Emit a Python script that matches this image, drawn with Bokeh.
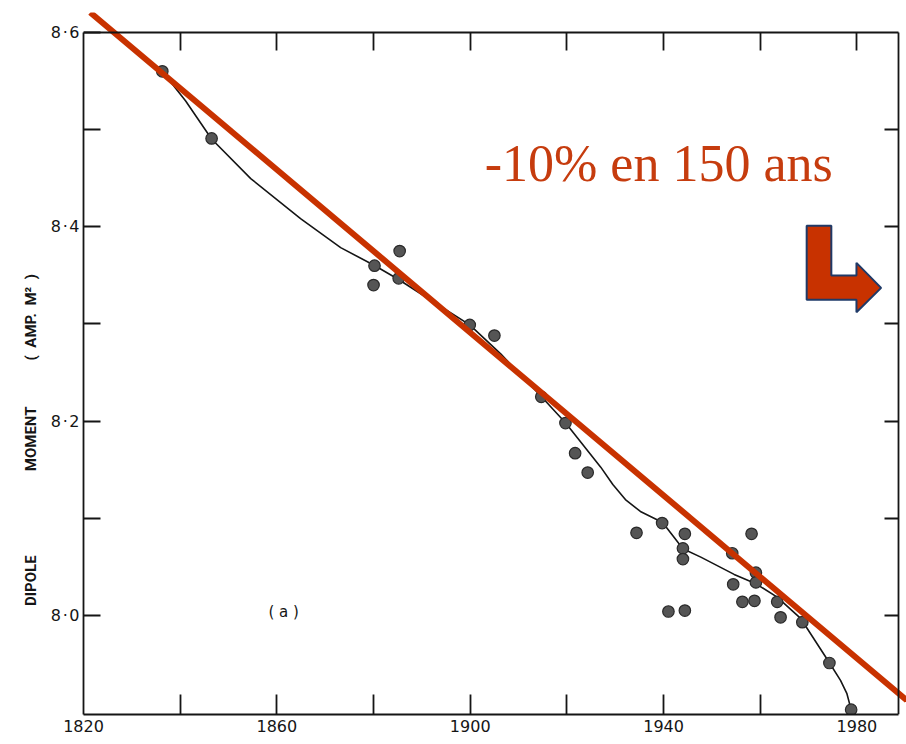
from bokeh.plotting import figure
from bokeh.models import (Range1d, LinearAxis, FixedTicker, CustomJSTickFormatter, Label)
from bokeh.embed import file_html
from bokeh.resources import INLINE

obs_year = [1836.3, 1846.5, 1880.2, 1880.0, 1885.4, 1885.2, 1899.9, 1905.0, 1914.7,
            1919.7, 1921.7, 1924.3, 1934.4, 1939.7, 1944.4, 1944.0, 1944.0, 1958.2,
            1954.2, 1959.1, 1959.1, 1954.4, 1956.3, 1958.8, 1941.0, 1944.4, 1963.5,
            1964.2, 1968.7, 1974.3, 1978.8]
obs_moment = [8.560, 8.491, 8.360, 8.340, 8.375, 8.347, 8.299, 8.288, 8.225,
              8.198, 8.167, 8.147, 8.085, 8.095, 8.084, 8.069, 8.058, 8.084,
              8.064, 8.044, 8.034, 8.032, 8.014, 8.015, 8.004, 8.005, 8.014,
              7.998, 7.993, 7.951, 7.903]

# smooth fitted curve
fit_year = [1836.35, 1841.1, 1846.5, 1854.6, 1864.9, 1873.2, 1880.2, 1885.1,
            1892.5, 1899.9, 1906.3, 1914.7, 1919.7, 1927.0, 1929.5, 1932.1, 1935.2,
            1939.8, 1944.0, 1947.7, 1954.6, 1959.1, 1963.5, 1968.4, 1974.3, 1976.6,
            1977.9, 1978.8]
fit_moment = [8.5597, 8.5298, 8.4904, 8.4496, 8.4084, 8.3786, 8.3601, 8.3460,
              8.3223, 8.2991, 8.2692, 8.2253, 8.1983, 8.1526, 8.1348, 8.1193, 8.1070,
              8.0957, 8.0686, 8.0600, 8.0422, 8.0326, 8.0188, 7.9966, 7.9513, 7.9331,
              7.9198, 7.9030]

# red trend line (overlay)
trend_year = [1821.4, 1990.3]
trend_moment = [8.6206, 7.9126]

# L-shaped arrow outline
arrow_year = [1969.6, 1974.7, 1974.7, 1979.9, 1979.9, 1985.0, 1979.9, 1979.9, 1969.6]
arrow_moment = [8.4012, 8.4012, 8.3498, 8.3498, 8.3629, 8.3371, 8.3120, 8.3248, 8.3248]

x_label_ticks = [1820, 1860, 1900, 1940, 1980]
x_mark_ticks = [1840, 1860, 1880, 1900, 1920, 1940, 1960]
x_top_ticks = [1840, 1860, 1880, 1900, 1920, 1940, 1960, 1980]
y_label_ticks = [8.0, 8.2, 8.4, 8.6]
y_mark_ticks = [8.1, 8.3, 8.5]
y_right_ticks = [8.0, 8.1, 8.2, 8.3, 8.4, 8.5]

x_axis_span = (1820, 1988.6)
y_axis_span = (7.898, 8.6)

EM = "\u2003"
EN = "\u2002"
y_title = ("DIPOLE" + EM * 5 + EN + "MOMENT" + EM * 3 +
           "(" + EN + "AMP." + EN + "M\u00b2" + EN + ")" + EM * 10)
annotation_text = "-10% en 150 ans"

RED = "#C83200"
TXT_RED = "#C63C0E"
INK = "#151515"

p = figure(width=906, height=744,
           x_range=Range1d(1820, 1990.25), y_range=Range1d(7.898, 8.62059),
           output_backend="svg", toolbar_location=None,
           x_axis_type=None, y_axis_type=None,
           min_border_left=83, min_border_right=0, min_border_top=12, min_border_bottom=30)
p.outline_line_color = None
p.background_fill_color = "white"
p.border_fill_color = "white"


def style_axis(ax):
    ax.axis_line_color = INK
    ax.axis_line_width = 1.8
    ax.major_tick_line_color = INK
    ax.major_tick_line_width = 1.8
    ax.minor_tick_line_color = INK
    ax.minor_tick_line_width = 1.8
    ax.major_tick_out = 0
    ax.minor_tick_out = 0
    ax.major_label_text_font = "DejaVu Sans"
    ax.major_label_text_font_size = "16px"
    ax.major_label_text_color = INK


blank = CustomJSTickFormatter(code="return ''")

xb = LinearAxis(ticker=FixedTicker(ticks=x_label_ticks, minor_ticks=x_mark_ticks),
                bounds=x_axis_span)
style_axis(xb)
xb.major_tick_in = 0
xb.minor_tick_in = 20
xb.major_label_standoff = 5
p.add_layout(xb, "below")

xt = LinearAxis(ticker=FixedTicker(ticks=x_top_ticks, minor_ticks=[]), formatter=blank,
                bounds=x_axis_span, fixed_location=y_axis_span[1])
style_axis(xt)
xt.major_tick_in = 18
xt.major_label_text_font_size = "1px"
xt.major_label_standoff = 0
p.add_layout(xt, "above")

yl = LinearAxis(ticker=FixedTicker(ticks=y_label_ticks, minor_ticks=y_mark_ticks),
                formatter=CustomJSTickFormatter(
                    code="return tick.toFixed(1).replace('.', '\u200a\u00b7\u200a')"),
                bounds=y_axis_span)
style_axis(yl)
yl.major_tick_in = 17
yl.minor_tick_in = 17
yl.major_label_standoff = 4
p.add_layout(yl, "left")

# axis carrying only the vertical title
yt = LinearAxis(ticker=FixedTicker(ticks=[], minor_ticks=[]), formatter=blank,
                axis_label=y_title)
yt.axis_line_color = None
yt.major_tick_line_color = None
yt.minor_tick_line_color = None
yt.major_tick_in = 0
yt.major_tick_out = 0
yt.minor_tick_in = 0
yt.minor_tick_out = 0
yt.major_label_standoff = 0
yt.axis_label_standoff = 8
yt.axis_label_text_font = "Roboto"
yt.axis_label_text_font_style = "bold"
yt.axis_label_text_font_size = "15px"
yt.axis_label_text_color = INK
p.add_layout(yt, "left")

yr = LinearAxis(ticker=FixedTicker(ticks=y_right_ticks, minor_ticks=[]), formatter=blank,
                bounds=y_axis_span, fixed_location=x_axis_span[1])
style_axis(yr)
yr.major_tick_in = 14
yr.major_label_text_font_size = "1px"
yr.major_label_standoff = 0
p.add_layout(yr, "right")

# fitted curve and observations
p.line(fit_year, fit_moment, line_color=INK, line_width=1.6)
p.scatter(obs_year, obs_moment, size=11.5, fill_color="#555555", line_color="#2a2a2a", line_width=1.2)

# red overlay: trend line, arrow, text
p.line(trend_year, trend_moment, line_color=RED, line_width=6)
p.patch(arrow_year, arrow_moment, fill_color=RED, line_color="#1F3A68", line_width=2)

p.add_layout(Label(x=1903.0, y=8.4650, text=annotation_text, text_font="Liberation Serif",
                   text_font_size="52px", text_color=TXT_RED, text_baseline="alphabetic",
                   text_align="left"))

p.add_layout(Label(x=1861.4, y=8.003, text="( a )", text_font="DejaVu Sans",
                   text_font_size="15px", text_color=INK, text_baseline="middle",
                   text_align="center"))

open("out.html", "w").write(file_html(p, INLINE))
